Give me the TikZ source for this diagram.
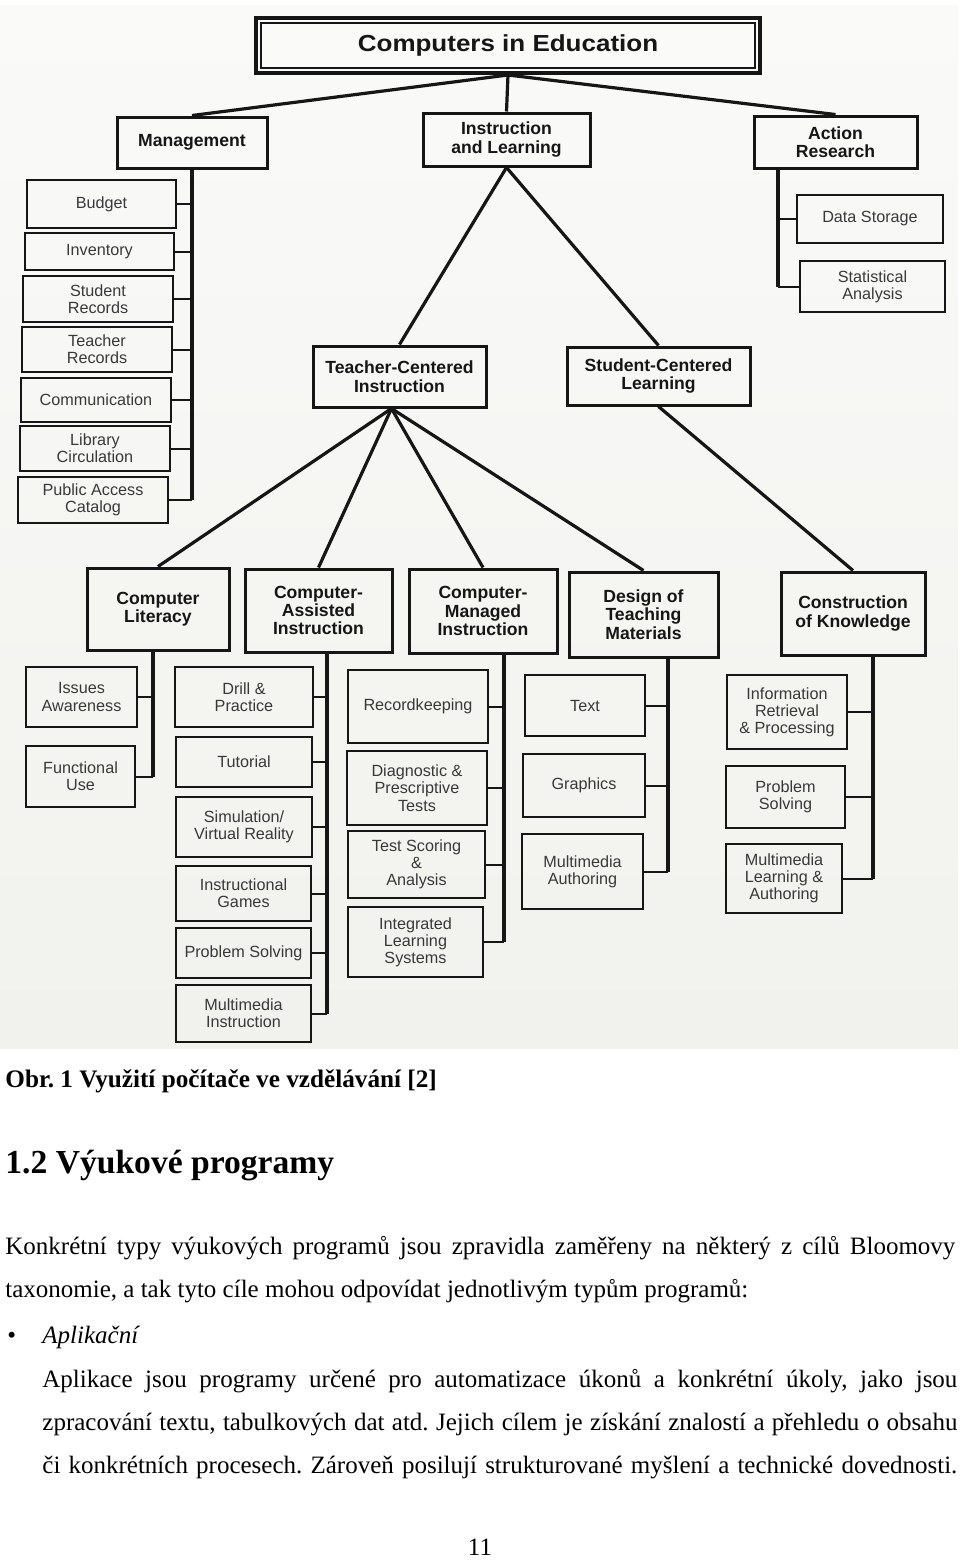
\documentclass[tikz,border=0pt]{standalone}
\usepackage{fontspec}
\setmainfont{Liberation Serif}
\setsansfont{Liberation Sans}
\newfontfamily\titlefont[FakeStretch=1.12]{Liberation Sans}
\usetikzlibrary{positioning}
\frenchspacing

\definecolor{photo}{RGB}{241,242,237}
\definecolor{phototop}{RGB}{250,250,249}
\definecolor{ink}{RGB}{22,22,22}

\tikzset{
  big/.style={draw=ink, line width=1.5pt, inner sep=0pt, align=center, text=ink,
    font=\sffamily\bfseries\fontsize{8.8}{9.2}\selectfont},
  leaf/.style={draw=ink, line width=0.9pt, inner sep=0pt, align=center, text=ink!85,
    font=\sffamily\fontsize{8.1}{8.6}\selectfont},
  sz/.style 2 args={minimum width=#1*0.5pt, minimum height=#2*0.5pt},
  link/.style={draw=ink, line width=1.6pt},
  stub/.style={draw=ink, line width=1pt},
  txt/.style={anchor=base west, inner sep=0pt, font=\fontsize{12.5}{14}\selectfont},
}

\begin{document}
\begin{tikzpicture}[x=0.5pt, y=-0.5pt]
\useasboundingbox (0,0) rectangle (960,1560);
% photo of the chart
\shade[top color=phototop, bottom color=photo] (0,5) rectangle (958,1048);

% top and first level
\node[big, sz={504}{55}, line width=2pt, font=\titlefont\bfseries\fontsize{11.6}{13}\selectfont] (edu) at (508,45.5) {Computers in Education};
\draw[ink, line width=0.6pt] ([shift={(3.5pt,-3.5pt)}]edu.north west) rectangle ([shift={(-3.5pt,3.5pt)}]edu.south east);
\node[big, sz={150}{51}] (mgt) at (192,142.5) {Management};
\node[big, sz={167}{53}] (inl) at (506.5,139.5) {Instruction\\and Learning};
\node[big, sz={163}{52}] (ar) at (835.5,142) {Action\\Research};

% second and third level
\node[big, sz={173}{61}] (tc) at (399.5,376.5) {Teacher-Centered\\Instruction};
\node[big, sz={183}{58}] (sc) at (658.5,376) {Student-Centered\\Learning};
\node[big, sz={142}{82}] (cl) at (158,609) {Computer\\Literacy};
\node[big, sz={147}{83}] (cai) at (318.5,610.5) {Computer-\\Assisted\\Instruction};
\node[big, sz={148}{84}] (cmi) at (483,611) {Computer-\\Managed\\Instruction};
\node[big, sz={149}{85}] (dtm) at (643.5,614.5) {Design of\\Teaching\\Materials};
\node[big, sz={144}{83}] (cok) at (853,613.5) {Construction\\of Knowledge};

% leaves
\foreach \n/\cx/\cy/\w/\h/\t in {
  bud/101.5/204/149/48/{Budget},
  inv/99.5/251.5/149/37/{Inventory},
  sr/98/299/150/46/{Student\\Records},
  tr/97/349.5/150/45/{Teacher\\Records},
  com/96/400/150/44/{Communication},
  lib/95/448.5/150/45/{Library\\Circulation},
  pac/93/500/150/46/{Public Access\\Catalog},
  ds/870/219/146/48/{Data Storage},
  sa/872.5/286.5/145/51/{Statistical\\Analysis},
  iss/81.5/697/111/60/{Issues\\Awareness},
  fun/80.5/776.5/109/61/{Functional\\Use},
  dri/244/697/138/60/{Drill \&\\Practice},
  tut/244/762/136/50/{Tutorial},
  sim/244/827/136/60/{Simulation/\\Virtual Reality},
  gam/243.5/893.5/135/55/{Instructional\\Games},
  pro/243.5/953/135/50/{Problem Solving},
  mmi/243.5/1013.5/135/57/{Multimedia\\Instruction},
  rec/418/706.5/140/73/{Recordkeeping},
  dia/417/788/140/74/{Diagnostic \&\\Prescriptive\\Tests},
  tsa/416.5/864.5/137/67/{Test Scoring\\\&\\Analysis},
  ils/415.5/942/135/70/{Integrated\\Learning\\Systems},
  txt/585/705.5/120/61/{Text},
  gra/584/785.5/122/63/{Graphics},
  mma/582.5/871.5/121/75/{Multimedia\\Authoring},
  irp/787/712/120/74/{Information\\Retrieval\\\& Processing},
  cps/785.5/797/119/62/{Problem\\Solving},
  mla/784/878.5/116/69/{Multimedia\\Learning \&\\Authoring}}
  \node[leaf, sz={\w}{\h}] (\n) at (\cx,\cy) {\t};

% tree links
\draw[link] (edu.south) -- (mgt.north);
\draw[link] (edu.south) -- (inl.north);
\draw[link] (edu.south) -- (ar.north);
\draw[link] (inl.south) -- (tc.north);
\draw[link] (inl.south) -- (sc.north);
\foreach \c in {cl,cai,cmi,dtm}
  \draw[link] ([xshift=-4pt]tc.south) -- (\c.north);
\draw[link] (sc.south) -- (cok.north);

% spines
\coordinate (arsp) at (778,0);
\coordinate (clsp) at (153,0);
\coordinate (caisp) at (327,0);
\coordinate (cmisp) at (504,0);
\coordinate (dtmsp) at (668,0);
\coordinate (coksp) at (873,0);
\draw[link] (mgt.south) -- (pac.east -| mgt.south);
\draw[link] (ar.south -| arsp) -- (sa.east -| arsp);
\draw[link] (cl.south -| clsp) -- (fun.east -| clsp);
\draw[link] (cai.south -| caisp) -- (mmi.east -| caisp);
\draw[link] (cmi.south -| cmisp) -- (ils.east -| cmisp);
\draw[link] (dtm.south -| dtmsp) -- (mma.east -| dtmsp);
\draw[link] (cok.south -| coksp) -- (mla.east -| coksp);
\foreach \n in {bud,inv,sr,tr,com,lib,pac}
  \draw[stub] (\n.east) -- (\n.east -| mgt.south);
\foreach \n in {ds,sa} \draw[stub] (\n.west) -- (\n.west -| arsp);
\foreach \n in {iss,fun} \draw[stub] (\n.east) -- (\n.east -| clsp);
\foreach \n in {dri,tut,sim,gam,pro,mmi} \draw[stub] (\n.east) -- (\n.east -| caisp);
\foreach \n in {rec,dia,tsa,ils} \draw[stub] (\n.east) -- (\n.east -| cmisp);
\foreach \n in {txt,gra,mma} \draw[stub] (\n.east) -- (\n.east -| dtmsp);
\foreach \n in {irp,cps,mla} \draw[stub] (\n.east) -- (\n.east -| coksp);

% page text
\node[txt, font=\bfseries\fontsize{12.6}{14}\selectfont] (cap) at (5,1087) {Obr. 1 Využití počítače ve vzdělávání [2]};
\node[txt, font=\bfseries\fontsize{16.8}{19}\selectfont] (head) at (5,1173) {1.2 Výukové programy};
\node[txt] (p1) at (5,1254) {\makebox[475pt][s]{Konkrétní typy výukových programů jsou zpravidla zaměřeny na některý z cílů Bloomovy}};
\node[txt] (p2) at (5,1297) {taxonomie, a tak tyto cíle mohou odpovídat jednotlivým typům programů:};
\node[txt] (bul) at (7,1343) {\textbullet};
\node[txt, font=\itshape\fontsize{12.5}{14}\selectfont] (apl) at (42,1343) {Aplikační};
\node[txt] (l1) at (42,1387) {\makebox[457.5pt][s]{Aplikace jsou programy určené pro automatizace úkonů a konkrétní úkoly, jako jsou}};
\node[txt] (l2) at (42,1430) {\makebox[457.5pt][s]{zpracování textu, tabulkových dat atd. Jejich cílem je získání znalostí a přehledu o obsahu}};
\node[txt] (l3) at (42,1473) {\makebox[457.5pt][s]{či konkrétních procesech. Zároveň posilují strukturované myšlení a technické dovednosti.}};
\node[txt, anchor=base] (pg) at (480,1555) {11};
\end{tikzpicture}
\end{document}
